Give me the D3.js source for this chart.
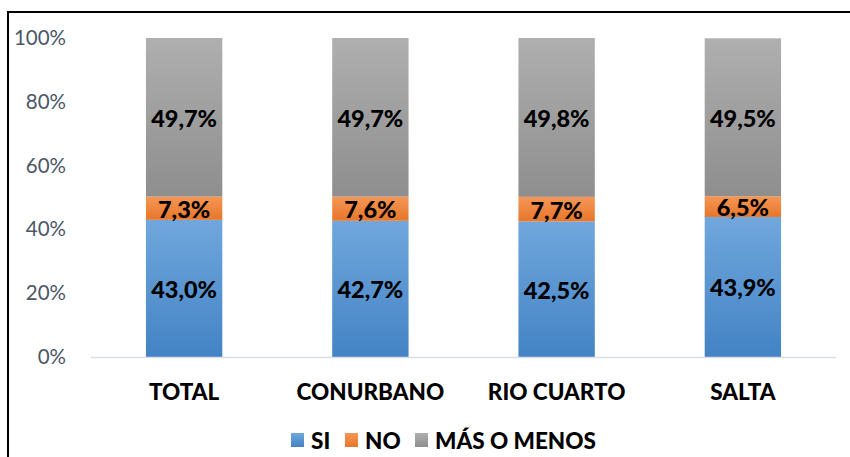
<!DOCTYPE html>
<html>
<head>
<meta charset="utf-8">
<script src="https://cdn.jsdelivr.net/npm/d3@7"></script>
<style>
  body { margin: 0; background: #fff; }
  svg { display: block; font-family: Lato, "Open Sans", sans-serif; }
</style>
</head>
<body>
<div id="chart"></div>
<script>
// data
var categories = ["TOTAL", "CONURBANO", "RIO CUARTO", "SALTA"];
var seriesNames = ["SI", "NO", "MÁS O MENOS"];
var si = [43.0, 42.7, 42.5, 43.9];
var no = [7.3, 7.6, 7.7, 6.5];
var masOMenos = [49.7, 49.7, 49.8, 49.5];
var yTicks = [0, 20, 40, 60, 80, 100];

var W = 850, H = 457;
var margin = { top: 38, right: 14, bottom: 100, left: 91 };

var svg = d3.select("#chart").append("svg")
  .attr("width", W).attr("height", H);

// gradients like the office look
var grads = [
  ["gSi", "#70a7dd", "#4383c4"],
  ["gNo", "#f59756", "#e7762a"],
  ["gMas", "#afafaf", "#8e8e8e"]
];
var defs = svg.append("defs");
grads.forEach(function(g) {
  var lg = defs.append("linearGradient").attr("id", g[0])
    .attr("x1", 0).attr("y1", 0).attr("x2", 0).attr("y2", 1);
  lg.append("stop").attr("offset", "0%").attr("stop-color", g[1]);
  lg.append("stop").attr("offset", "100%").attr("stop-color", g[2]);
});
var fills = ["url(#gSi)", "url(#gNo)", "url(#gMas)"];

// outer frame
svg.append("rect")
  .attr("x", 8).attr("y", 12)
  .attr("width", W + 10).attr("height", H + 10)
  .attr("fill", "none").attr("stroke", "#000").attr("stroke-width", 2);

var x = d3.scaleBand().domain(categories)
  .range([margin.left, W - margin.right])
  .paddingInner(0.59).paddingOuter(0.295);

var y = d3.scaleLinear().domain([0, 100])
  .range([H - margin.bottom, margin.top]);

var table = categories.map(function(c, i) {
  return { cat: c, "SI": si[i], "NO": no[i], "MÁS O MENOS": masOMenos[i] };
});
var stack = d3.stack().keys(seriesNames)(table);

// y axis labels
var yAxis = svg.append("g")
  .attr("transform", "translate(" + (margin.left - 22) + ",0)")
  .call(d3.axisLeft(y).tickValues(yTicks).tickSize(0)
    .tickFormat(function(d) { return d + "%"; }));
yAxis.select(".domain").remove();
yAxis.selectAll("text")
  .attr("fill", "#4c5769").style("font-size", "20.5px")
  .style("font-family", "Lato, sans-serif");

// bars
stack.forEach(function(layer, k) {
  var g = svg.append("g");
  g.selectAll("rect").data(layer).enter().append("rect")
    .attr("x", function(d) { return x(d.data.cat); })
    .attr("width", x.bandwidth())
    .attr("y", function(d) { return y(d[1]); })
    .attr("height", function(d) { return y(d[0]) - y(d[1]); })
    .attr("fill", fills[k]);
  g.selectAll("text").data(layer).enter().append("text")
    .attr("x", function(d) { return x(d.data.cat) + x.bandwidth() / 2; })
    .attr("y", function(d) { return (y(d[0]) + y(d[1])) / 2; })
    .attr("dy", "0.4em")
    .attr("text-anchor", "middle")
    .style("font-size", "23.5px").style("font-weight", "900")
    .attr("fill", "#000")
    .text(function(d) { return (d[1] - d[0]).toFixed(1).replace(".", ",") + "%"; });
});

// baseline
svg.append("line")
  .attr("x1", margin.left).attr("x2", W - margin.right)
  .attr("y1", y(0) + 0.5).attr("y2", y(0) + 0.5)
  .attr("stroke", "#d9dee6").attr("stroke-width", 1.5);

// category labels
var xAxis = svg.append("g")
  .attr("transform", "translate(0," + y(0) + ")")
  .call(d3.axisBottom(x).tickSize(0).tickPadding(27));
xAxis.select(".domain").remove();
xAxis.selectAll("text")
  .attr("fill", "#000").style("font-size", "22.5px").style("font-weight", "900")
  .style("font-family", "Lato, sans-serif");

// legend
var legX = [291, 345, 415];
var leg = svg.append("g");
seriesNames.forEach(function(s, k) {
  leg.append("rect").attr("x", legX[k]).attr("y", 433)
    .attr("width", 13).attr("height", 14).attr("fill", fills[k]);
  leg.append("text").attr("x", legX[k] + 20).attr("y", 440)
    .attr("dy", "0.38em")
    .style("font-size", "22.5px").style("font-weight", "900")
    .attr("fill", "#000").text(s);
});
</script>
</body>
</html>
